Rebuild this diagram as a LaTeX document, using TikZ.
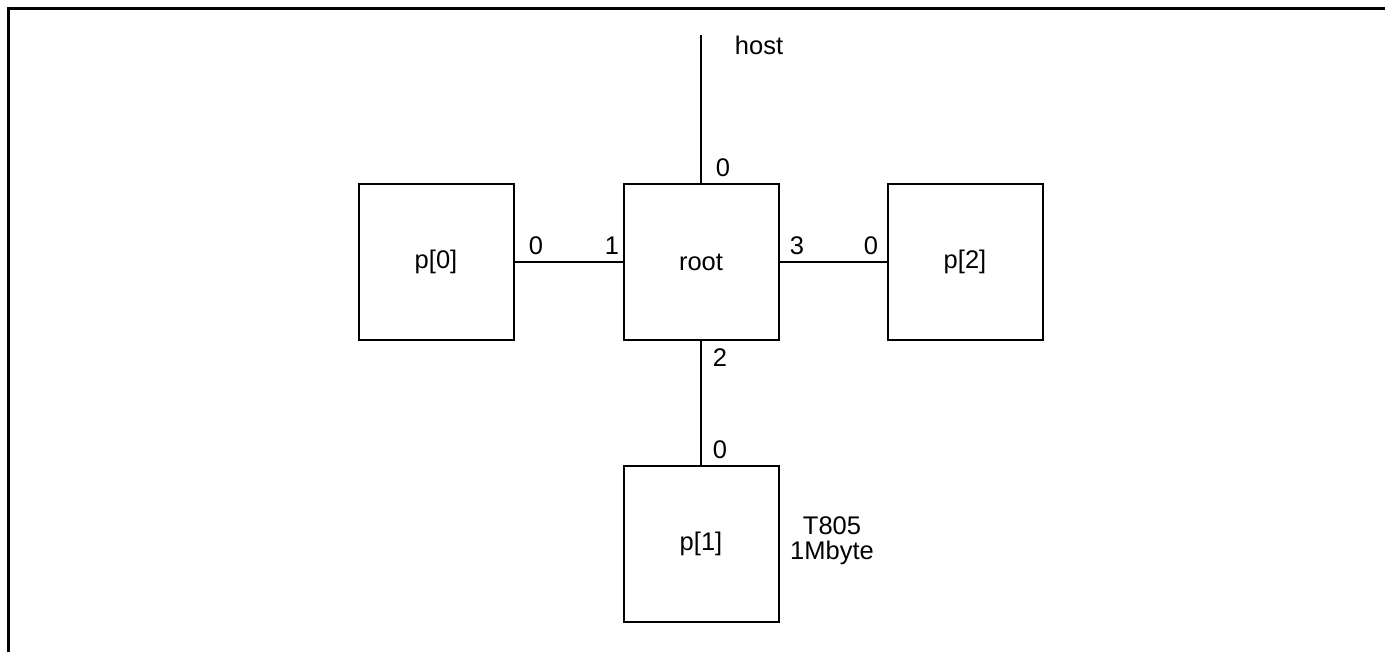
\documentclass[tikz,border=0pt]{standalone}
\usepackage{fontspec}
\setmainfont{Liberation Sans}
\begin{document}
\begin{tikzpicture}[x=1pt,y=-1pt,
  box/.style={draw,line width=2pt,minimum width=155pt,minimum height=156pt,inner sep=0pt,font=\fontsize{25.5}{24}\selectfont},
  lbl/.style={inner sep=0pt,font=\fontsize{25.5}{25}\selectfont},
  conn/.style={line width=1.5pt}]
\useasboundingbox (0,0) rectangle (1385,652);
\fill[white] (0,0) rectangle (1385,652);
\draw[line width=3pt] (8,653) -- (8,9) -- (1386,9);
\node[box] (p0) at (436,262) {p[0]};
\node[box] (root) at (701,262) {root};
\node[box] (p2) at (965,262) {p[2]};
\node[box] (p1) at (701,543.5) {p[1]};
\coordinate (hosttop) at (701,35);
\draw[conn] (root.north) -- (hosttop);
\draw[conn] (p0.east) -- (root.west);
\draw[conn] (root.east) -- (p2.west);
\draw[conn] (root.south) -- (p1.north);
\node[lbl] (lhost) at (759,45) {host};
\node[lbl] (lr0) at (723,168) {0};
\node[lbl] (lp00) at (536,246) {0};
\node[lbl] (lr1) at (612,246) {1};
\node[lbl] (lr3) at (797,246) {3};
\node[lbl] (lp20) at (871,246) {0};
\node[lbl] (lr2) at (720,358) {2};
\node[lbl] (lp10) at (720,450) {0};
\node[lbl,align=center] (info) at (832,541) {T805\\1Mbyte};
\end{tikzpicture}
\end{document}
